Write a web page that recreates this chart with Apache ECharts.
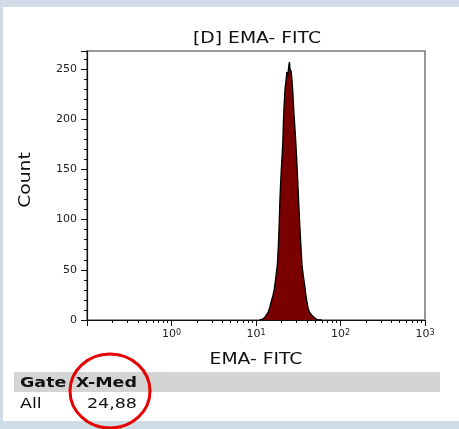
<!DOCTYPE html>
<html>
<head>
<meta charset="utf-8">
<script src="https://cdn.jsdelivr.net/npm/echarts@6/dist/echarts.min.js"></script>
<style>
  html, body { margin: 0; padding: 0; }
  #chart { width: 459px; height: 429px; }
</style>
</head>
<body>
<div id="chart"></div>
<script>
// EMA-FITC intensity (bin centres) and event counts
var intensity = [11.0, 12.1, 12.8, 13.8, 14.5, 15.1, 15.8, 16.4, 16.9, 17.4, 17.9, 18.4, 18.8, 19.2, 19.5,
  19.9, 20.4, 20.8, 21.1, 21.5, 22.1, 22.6, 23.2, 23.7, 24.2, 24.6, 24.9, 25.2, 25.6, 26.1, 26.6, 27.1,
  27.8, 28.6, 29.5, 30.2, 30.8, 31.9, 33.0, 34.0, 35.0, 36.3, 37.6, 38.9, 40.1, 41.4, 42.8, 45.5, 48.1,
  51.5, 54.7, 60]
var counts = [0, 1, 3, 7, 12, 18, 24, 30, 38, 47, 55, 75, 95, 120, 134,
  149, 165, 179, 197, 214, 231, 238, 247, 243, 250, 255, 257, 251, 249, 247, 240, 231,
  214, 197, 179, 163, 149, 120, 94, 74, 55, 44, 35, 25, 18, 12, 8, 5, 3,
  1, 0, 0]

var xMajorTicks = [0.1, 1, 10, 100, 1000]
var xLabelValues = [1, 10, 100, 1000]
var yMajorTicks = [0, 50, 100, 150, 200, 250, 268]
var yLabelValues = [0, 50, 100, 150, 200, 250]

var gateHeader = ['Gate', 'X-Med']
var gateNames = ['All']
var gateMedians = ['24,88']

var xMinorTicks = []
;[0.1, 1, 10, 100].forEach(function(d) {
  for (var k = 2; k <= 9; k++) xMinorTicks.push(d * k)
})
var yMinorTicks = []
for (var v = 10; v <= 260; v += 10) {
  if (v % 50 !== 0) yMinorTicks.push(v)
}

var FONT = 'DejaVu Sans'
var SX = 1.25

function stretchedText(x, y, text, size, weight, align) {
  return {
    type: 'text',
    x: x,
    y: y,
    scaleX: SX,
    z: 10,
    style: {
      text: text,
      fontFamily: FONT,
      fontSize: size,
      fontWeight: weight || 'normal',
      fill: '#111',
      align: align || 'center',
      verticalAlign: 'middle'
    }
  }
}

var chart = echarts.init(document.getElementById('chart'))

var sup = { 0: '\u2070', 1: '\u00b9', 2: '\u00b2', 3: '\u00b3' }

chart.setOption({
  backgroundColor: '#cfdbe6',
  animation: false,
  grid: {
    left: 87,
    right: 34,
    top: 51,
    bottom: 109,
    show: true,
    backgroundColor: '#fff',
    borderColor: '#777',
    borderWidth: 1.5
  },
  xAxis: [{
    type: 'log',
    logBase: 10,
    min: 0.1,
    max: 1000,
    position: 'bottom',
    axisLine: { onZero: false, lineStyle: { color: '#111', width: 1.2 } },
    axisTick: { customValues: xMajorTicks, length: 6, lineStyle: { color: '#111' } },
    axisLabel: {
      customValues: xLabelValues,
      margin: 9,
      fontFamily: FONT,
      color: '#222',
      formatter: function(val) {
        var e = Math.round(Math.log10(val))
        return '{b|10}{s|' + e + '}'
      },
      rich: {
        b: { fontFamily: FONT, fontSize: 11, color: '#222', verticalAlign: 'bottom' },
        s: { fontFamily: FONT, fontSize: 8, color: '#222', verticalAlign: 'top', padding: [0, 0, 3, 0] }
      }
    },
    splitLine: { show: false }
  }, {
    type: 'log',
    logBase: 10,
    min: 0.1,
    max: 1000,
    position: 'bottom',
    axisLine: { show: false, onZero: false },
    axisTick: { customValues: xMinorTicks, length: 3, lineStyle: { color: '#111' } },
    axisLabel: { show: false },
    splitLine: { show: false }
  }],
  yAxis: [{
    type: 'value',
    min: 0,
    max: 268,
    position: 'left',
    axisLine: { show: true, lineStyle: { color: '#111', width: 1.2 } },
    axisTick: { show: true, customValues: yMajorTicks, length: 6, lineStyle: { color: '#111' } },
    axisLabel: { customValues: yLabelValues, margin: 10, fontFamily: FONT, fontSize: 11, color: '#222' },
    splitLine: { show: false }
  }, {
    type: 'value',
    min: 0,
    max: 268,
    position: 'left',
    axisLine: { show: false },
    axisTick: { show: true, customValues: yMinorTicks, length: 3, lineStyle: { color: '#111' } },
    axisLabel: { show: false },
    splitLine: { show: false }
  }],
  series: [{
    type: 'line',
    xAxisIndex: 0,
    yAxisIndex: 0,
    data: intensity.map(function(x, i) { return [x, counts[i]] }),
    showSymbol: false,
    lineStyle: { color: '#000', width: 1.3 },
    areaStyle: { color: '#7a0000', opacity: 1 },
    z: 3
  }],
  graphic: [
    { type: 'rect', z: -1, shape: { x: 3, y: 7, width: 456, height: 414 }, style: { fill: '#fff' } },
    stretchedText(257, 39, '[D] EMA- FITC', 15),
    stretchedText(256, 360, 'EMA- FITC', 15),
    {
      type: 'text', x: 26, y: 180, rotation: Math.PI / 2, scaleX: SX, z: 10,
      style: { text: 'Count', fontFamily: FONT, fontSize: 15, fill: '#111', align: 'center', verticalAlign: 'middle' }
    },
    { type: 'rect', z: 1, shape: { x: 14, y: 372, width: 426, height: 20 }, style: { fill: '#d4d4d4' } },
    stretchedText(20, 383, gateHeader[0], 14, 'bold', 'left'),
    stretchedText(137, 383, gateHeader[1], 14, 'bold', 'right'),
    stretchedText(20, 404, gateNames[0], 14, 'normal', 'left'),
    stretchedText(137, 404, gateMedians[0], 14, 'normal', 'right'),
    {
      type: 'ellipse', z: 11,
      shape: { cx: 110, cy: 391, rx: 40, ry: 37 },
      style: { fill: null, stroke: '#e60000', lineWidth: 3 }
    }
  ]
})
</script>
</body>
</html>
